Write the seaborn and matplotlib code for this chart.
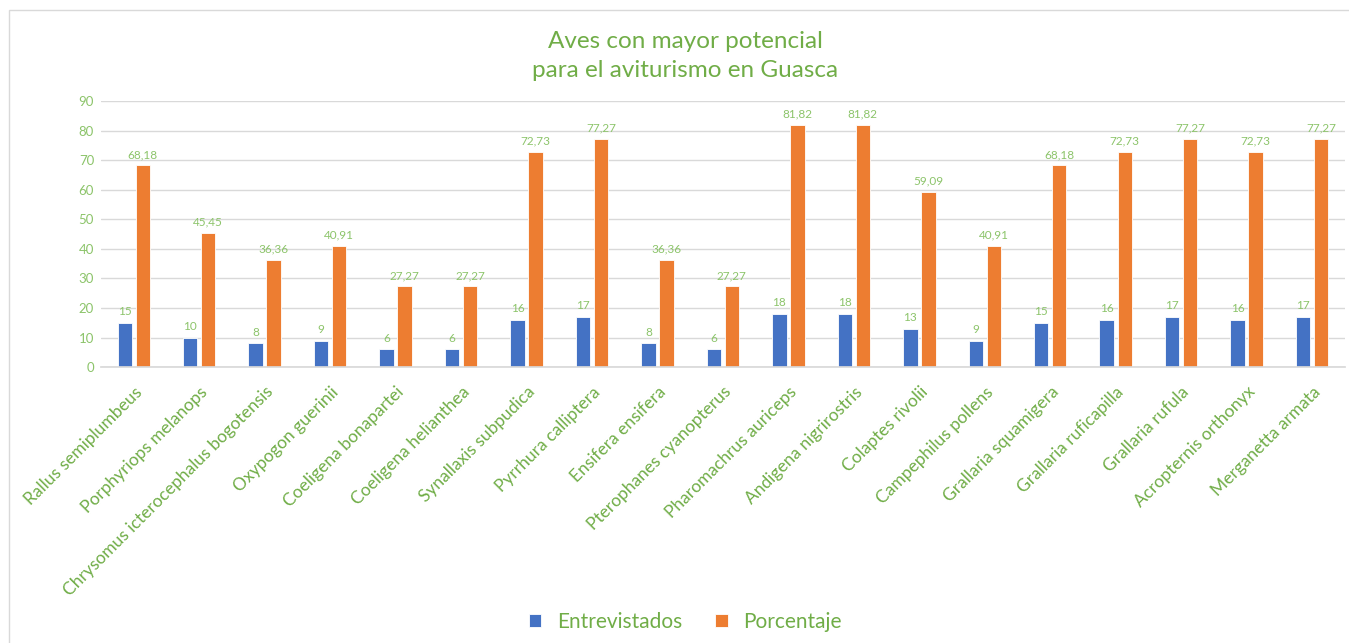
import matplotlib
matplotlib.use("Agg")
import matplotlib.pyplot as plt
import seaborn as sns
import pandas as pd
from matplotlib.patches import Rectangle

especies = ["Rallus semiplumbeus", "Porphyriops melanops", "Chrysomus icterocephalus bogotensis",
            "Oxypogon guerinii", "Coeligena bonapartei", "Coeligena helianthea",
            "Synallaxis subpudica", "Pyrrhura calliptera", "Ensifera ensifera",
            "Pterophanes cyanopterus", "Pharomachrus auriceps", "Andigena nigrirostris",
            "Colaptes rivolii", "Campephilus pollens", "Grallaria squamigera",
            "Grallaria ruficapilla", "Grallaria rufula", "Acropternis orthonyx",
            "Merganetta armata"]
entrevistados = [15, 10, 8, 9, 6, 6, 16, 17, 8, 6, 18, 18, 13, 9, 15, 16, 17, 16, 17]
porcentaje = [68.18, 45.45, 36.36, 40.91, 27.27, 27.27, 72.73, 77.27, 36.36, 27.27,
              81.82, 81.82, 59.09, 40.91, 68.18, 72.73, 77.27, 72.73, 77.27]
series = ["Entrevistados", "Porcentaje"]
yticks = list(range(0, 100, 10))

BLUE = "#4472C4"
ORANGE = "#ED7D31"
GREEN = "#70AD47"
LGREEN = "#8CC46A"

df = pd.DataFrame({
    "especie": especies * 2,
    "serie": [series[0]] * len(especies) + [series[1]] * len(especies),
    "valor": entrevistados + porcentaje,
})

sns.set_theme(style="white")
plt.rcParams["font.family"] = ["Lato", "DejaVu Sans"]

fig = plt.figure(figsize=(13.49, 6.43), dpi=100)
ax = fig.add_axes([0.0749, 0.429, 0.922, 0.414])

sns.barplot(data=df, x="especie", y="valor", hue="serie", order=especies,
            hue_order=series, palette=[BLUE, ORANGE], saturation=1, width=0.55, gap=0.2,
            edgecolor="white", linewidth=0.6, ax=ax, legend=True)

ax.set_ylim(0, 90)
ax.set_yticks(yticks)
ax.set_xlim(-0.5, len(especies) - 0.5)
ax.yaxis.grid(True, color="#D9D9D9", linewidth=1)
ax.set_axisbelow(True)
for s in ["top", "right", "left"]:
    ax.spines[s].set_visible(False)
ax.spines["bottom"].set_color("#D9D9D9")
ax.tick_params(axis="y", colors=LGREEN, labelsize=9.5, length=0, pad=5)
ax.tick_params(axis="x", colors=GREEN, labelsize=12.5, length=0, pad=12)
plt.setp(ax.get_xticklabels(), rotation=45, ha="right", rotation_mode="anchor")
ax.set_xlabel("")
ax.set_ylabel("")

for cont in ax.containers:
    labels = [f"{v:.2f}".replace(".", ",") if v % 1 else f"{int(v)}" for v in cont.datavalues]
    ax.bar_label(cont, labels=labels, padding=4, color=LGREEN, fontsize=8.5)

leg = ax.legend(loc="center", bbox_to_anchor=(0.508, 0.033), bbox_transform=fig.transFigure,
                ncol=2, frameon=False, fontsize=15, handlelength=0.6, handleheight=0.6,
                columnspacing=1.6, handletextpad=0.75)
for t in leg.get_texts():
    t.set_color(GREEN)

fig.text(0.508, 0.913, "Aves con mayor potencial\npara el aviturismo en Guasca",
         ha="center", va="center", color=GREEN, fontsize=17.5, linespacing=1.5)

fig.patches.append(Rectangle((9 / 1349, -0.01), 1.0, 1 - 10 / 643 + 0.01,
                             transform=fig.transFigure, fill=False,
                             edgecolor="#D9D9D9", linewidth=1))

fig.savefig("out.png", dpi=100, facecolor="white")
